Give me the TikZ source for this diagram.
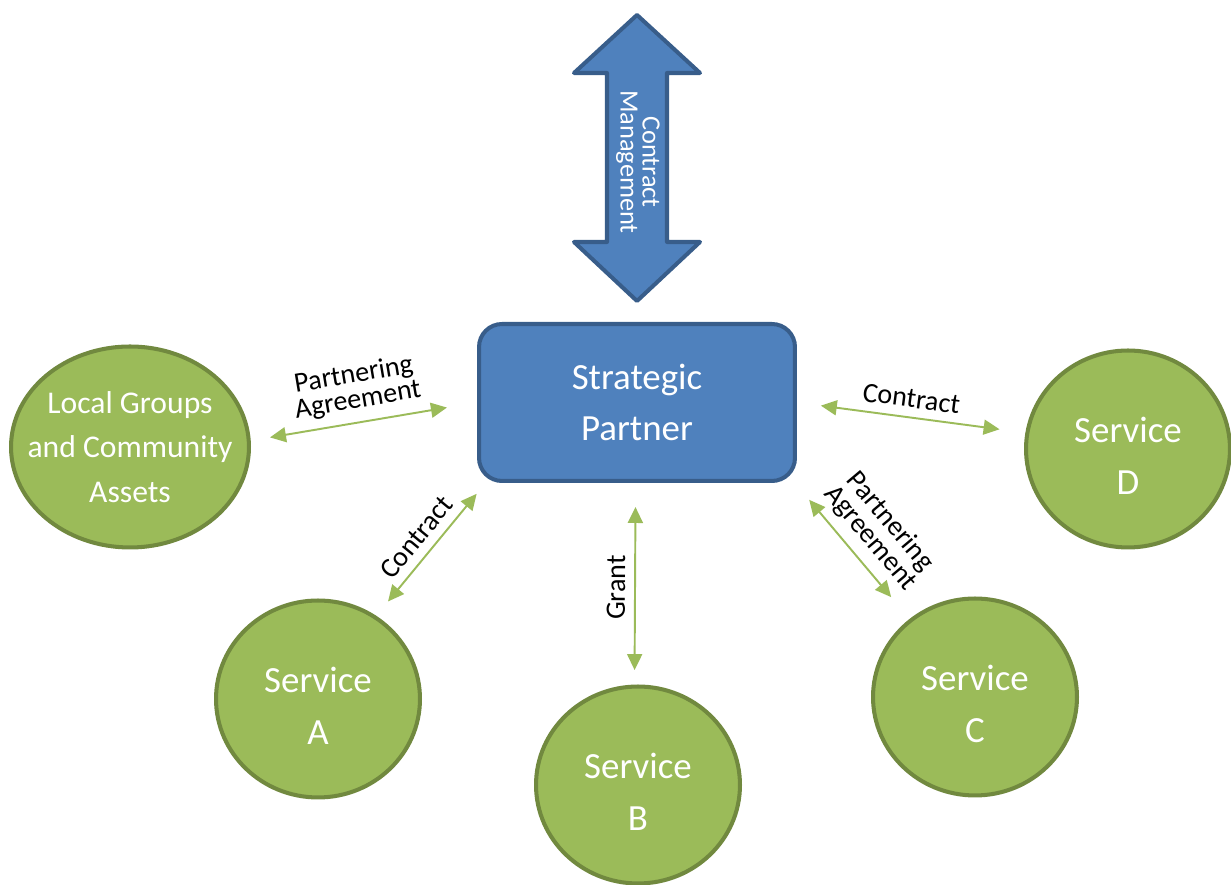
\documentclass[tikz,border=0pt]{standalone}
\usepackage{fontspec}
\setmainfont{Carlito}
\usepackage{tikz}
\usetikzlibrary{positioning, calc}
\usetikzlibrary{arrows.meta}
\usetikzlibrary{shapes.geometric}

\definecolor{partnerblue}{HTML}{4F81BD}
\definecolor{partnerline}{HTML}{385D8A}
\definecolor{servicegreen}{HTML}{9BBB59}
\definecolor{serviceline}{HTML}{71893F}

\newcommand{\servtext}[1]{\begin{tabular}{@{}c@{}}\rule{0pt}{1.1cm}Service\\#1\end{tabular}}

\begin{document}
\begin{tikzpicture}[x=0.02cm, y=0.02cm,
    service/.style={ellipse, draw=serviceline, fill=servicegreen, line width=2.3pt,
        minimum width=4.08cm, minimum height=3.94cm, inner sep=0pt,
        text=white, align=center, font=\fontsize{21}{30}\selectfont},
    link/.style={draw=servicegreen, line width=1.1pt, <->,
        >={Triangle[length=0.32cm,width=0.3cm]}},
    linklabel/.style={sloped, above, inner sep=5pt, align=center,
        font=\fontsize{16}{14.5}\selectfont}]
        \useasboundingbox (0,0) rectangle (1231,885);

        % contract management arrow
        \draw[draw=partnerline, fill=partnerblue, line width=2.3pt, line join=round]
            (637,870) -- (700,812) -- (667,812) -- (667,643) -- (700,643) -- (637,584)
            -- (574,643) -- (607,643) -- (607,812) -- (574,812) -- cycle;
        \node[rotate=-90, text=white, align=center, font=\fontsize{15}{12.5}\selectfont] (manage) at (638,723) {Contract\\Management};

        \node[draw=partnerline, fill=partnerblue, line width=2.3pt, rounded corners=0.46cm,
            minimum width=6.32cm, minimum height=3.14cm, text=white, align=center,
            font=\fontsize{21}{29}\selectfont] (partner) at (637,482.5) {Strategic\\Partner};

        \node[service, minimum width=4.76cm, minimum height=4.02cm, inner xsep=-1cm,
            font=\fontsize{18}{25.5}\selectfont] (local) at (130,438) {Local Groups\\and Community\\Assets};
        \node[service] (servA) at (318,186) {\servtext{A}};
        \node[service] (servB) at (638,100) {\servtext{B}};
        \node[service] (servC) at (975,188) {\servtext{C}};
        \node[service] (servD) at (1128,436) {\servtext{D}};

        \draw[link, shorten <=0.39cm, shorten >=0.61cm] (local.3) -- node[linklabel, pos=0.49] (agreeL) {Partnering\\Agreement} (partner.west);
        \draw[link, shorten <=0.48cm, shorten >=0.52cm] (partner.east) -- node[linklabel, pos=0.49] (contractD) {Contract} (servD.171);
        \draw[link, shorten <=0.37cm, shorten >=0.28cm] (servA.55) -- node[linklabel, pos=0.5] (contractA) {Contract} (partner.208);
        \draw[link, shorten <=0.29cm, shorten >=0.48cm] (servB.92) -- node[linklabel, pos=0.48] (grant) {Grant} (partner.269);
        \draw[link, shorten <=0.44cm, shorten >=0.57cm] (partner.-27) -- node[linklabel, pos=0.51] (agreeC) {Partnering\\Agreement} (servC.130);
\end{tikzpicture}
\end{document}
